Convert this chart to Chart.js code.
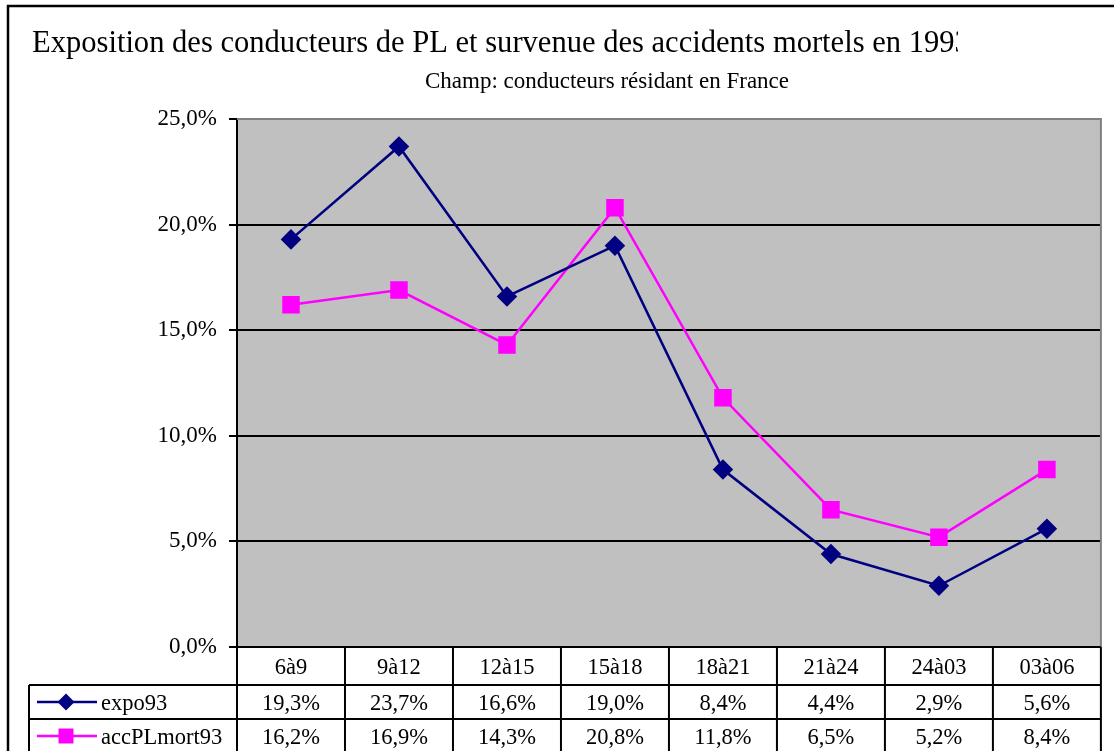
<!DOCTYPE html>
<html>
<head>
<meta charset="utf-8">
<script src="https://cdn.jsdelivr.net/npm/chart.js@4/dist/chart.umd.min.js"></script>
<style>
  html, body { margin: 0; padding: 0; background: #fff; }
  #wrap { width: 1114px; height: 751px; }
</style>
</head>
<body>
<div id="wrap"><canvas id="chart" width="1114" height="751"></canvas></div>
<script>
// chart data
const titleText = 'Exposition des conducteurs de PL et survenue des accidents mortels en 1993';
const subtitleText = 'Champ: conducteurs résidant en France';
const categories = ['6à9', '9à12', '12à15', '15à18', '18à21', '21à24', '24à03', '03à06'];
const expo93 = [19.3, 23.7, 16.6, 19.0, 8.4, 4.4, 2.9, 5.6];
const accPLmort93 = [16.2, 16.9, 14.3, 20.8, 11.8, 6.5, 5.2, 8.4];
const seriesNames = ['expo93', 'accPLmort93'];

const FONT = '"Liberation Serif", "Times New Roman", serif';
const fmt = v => v.toFixed(1).replace('.', ',') + '%';

// background, borders, title and data table
const excelLook = {
    id: 'excelLook',
    beforeDraw(chart) {
        const ctx = chart.ctx;
        const a = chart.chartArea;
        ctx.save();
        ctx.fillStyle = '#C0C0C0';
        ctx.fillRect(a.left, a.top, a.right - a.left, a.bottom - a.top);
        ctx.restore();
    },
    beforeDatasetsDraw(chart) {
        const ctx = chart.ctx;
        const a = chart.chartArea;
        ctx.save();
        ctx.strokeStyle = '#808080';
        ctx.lineWidth = 2;
        ctx.beginPath();
        ctx.moveTo(a.left, a.top);
        ctx.lineTo(a.right, a.top);
        ctx.lineTo(a.right, a.bottom);
        ctx.stroke();
        ctx.restore();
    },
    afterDraw(chart) {
        const ctx = chart.ctx;
        const a = chart.chartArea;
        const x = chart.scales.x;
        ctx.save();

        // outer frame
        ctx.strokeStyle = '#000';
        ctx.lineWidth = 2.5;
        ctx.beginPath();
        ctx.moveTo(8, 760);
        ctx.lineTo(8, 6);
        ctx.lineTo(1120, 6);
        ctx.stroke();

        // title (clipped like the original, glyphs a bit narrow)
        ctx.save();
        ctx.beginPath();
        ctx.rect(0, 0, 958, 100);
        ctx.clip();
        ctx.translate(32, 52);
        ctx.scale(0.955, 1);
        ctx.fillStyle = '#000';
        ctx.font = '32px ' + FONT;
        ctx.textAlign = 'left';
        ctx.textBaseline = 'alphabetic';
        ctx.fillText(titleText, 0, 0);
        ctx.restore();

        ctx.fillStyle = '#000';
        ctx.font = '23px ' + FONT;
        ctx.textAlign = 'center';
        ctx.textBaseline = 'middle';
        ctx.fillText(subtitleText, 607, 82);

        // data table
        const n = categories.length;
        const colW = (x.right - x.left) / n;
        const rowTop = [a.bottom, 685, 719];
        const rowBot = 760;
        const legLeft = 29;

        ctx.strokeStyle = '#000';
        ctx.lineWidth = 2;
        ctx.beginPath();
        // horizontal lines
        ctx.moveTo(a.left, rowTop[0]);
        ctx.lineTo(x.right, rowTop[0]);
        ctx.moveTo(legLeft, rowTop[1]);
        ctx.lineTo(x.right, rowTop[1]);
        ctx.moveTo(legLeft, rowTop[2]);
        ctx.lineTo(x.right, rowTop[2]);
        // vertical lines
        ctx.moveTo(legLeft, rowTop[1]);
        ctx.lineTo(legLeft, rowBot);
        for (let i = 0; i <= n; i++) {
            const xx = x.left + i * colW;
            ctx.moveTo(xx, rowTop[0]);
            ctx.lineTo(xx, rowBot);
        }
        ctx.stroke();

        ctx.font = '22.5px ' + FONT;
        ctx.fillStyle = '#000';
        ctx.textAlign = 'center';
        ctx.textBaseline = 'middle';
        const rows = [expo93, accPLmort93];
        const textY = [668, 704, 738];
        for (let i = 0; i < n; i++) {
            const cx = x.getPixelForValue(i);
            ctx.fillText(categories[i], cx, textY[0]);
            ctx.fillText(fmt(rows[0][i]), cx, textY[1]);
            ctx.fillText(fmt(rows[1][i]), cx, textY[2]);
        }

        // legend keys
        const keyY = [(rowTop[1] + rowTop[2]) / 2, (rowTop[2] + 753) / 2];
        chart.data.datasets.forEach((ds, k) => {
            const y = keyY[k];
            ctx.strokeStyle = ds.borderColor;
            ctx.lineWidth = 2.5;
            ctx.beginPath();
            ctx.moveTo(37, y);
            ctx.lineTo(97, y);
            ctx.stroke();
            ctx.fillStyle = ds.pointBackgroundColor;
            ctx.beginPath();
            if (ds.pointStyle === 'rectRot') {
                ctx.moveTo(66, y - 8.5);
                ctx.lineTo(74.5, y);
                ctx.lineTo(66, y + 8.5);
                ctx.lineTo(57.5, y);
                ctx.closePath();
            } else {
                ctx.rect(58.5, y - 7.5, 15, 15);
            }
            ctx.fill();
            ctx.fillStyle = '#000';
            ctx.textAlign = 'left';
            ctx.fillText(ds.label, 101, textY[k + 1]);
        });

        ctx.restore();
    }
};

const ctx = document.getElementById('chart').getContext('2d');
new Chart(ctx, {
    type: 'line',
    data: {
        labels: categories,
        datasets: [{
            label: seriesNames[0],
            data: expo93,
            borderColor: '#000080',
            backgroundColor: '#000080',
            pointBackgroundColor: '#000080',
            pointBorderColor: '#000080',
            pointStyle: 'rectRot',
            pointRadius: 8.5,
            borderWidth: 2.5,
            tension: 0
        }, {
            label: seriesNames[1],
            data: accPLmort93,
            borderColor: '#FF00FF',
            backgroundColor: '#FF00FF',
            pointBackgroundColor: '#FF00FF',
            pointBorderColor: '#FF00FF',
            pointStyle: 'rect',
            pointRadius: 10.6,
            borderWidth: 2.5,
            tension: 0
        }]
    },
    options: {
        responsive: false,
        animation: false,
        layout: { padding: { left: 0, top: 119, right: 10, bottom: 104 } },
        plugins: {
            legend: { display: false },
            title: { display: false },
            tooltip: { enabled: false }
        },
        scales: {
            x: {
                type: 'category',
                offset: true,
                display: false
            },
            y: {
                min: 0,
                max: 25,
                afterFit: scale => { scale.width = 237; },
                ticks: {
                    stepSize: 5,
                    padding: 12,
                    color: '#000',
                    font: { family: FONT, size: 23 },
                    callback: v => fmt(v)
                },
                grid: {
                    color: '#000',
                    lineWidth: 2,
                    tickLength: 8
                },
                border: { display: true, color: '#000', width: 2 }
            }
        }
    },
    plugins: [excelLook]
});
</script>
</body>
</html>
